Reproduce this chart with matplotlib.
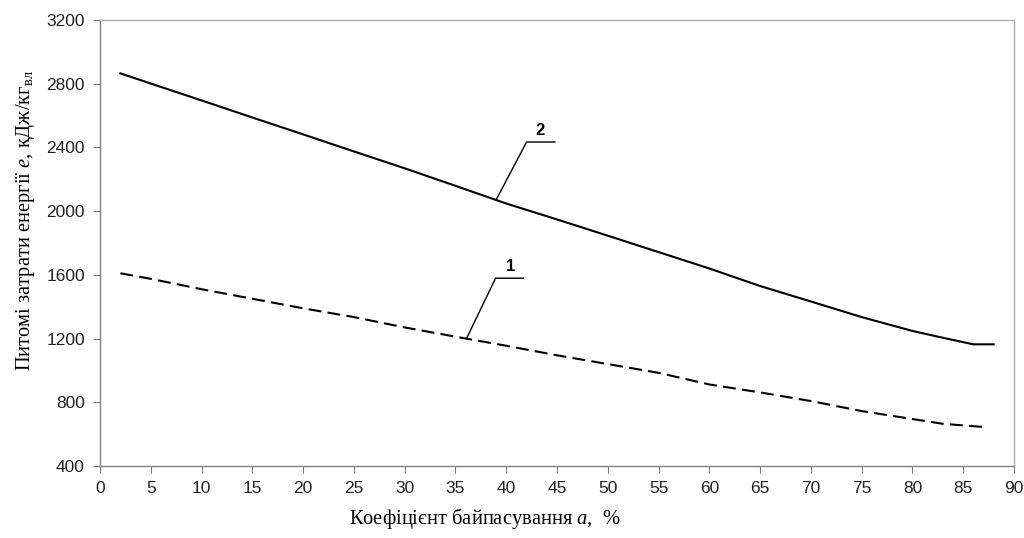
import numpy as np
import matplotlib.pyplot as plt

plt.rcParams['mathtext.fontset'] = 'custom'
plt.rcParams['mathtext.rm'] = 'Liberation Serif'
plt.rcParams['mathtext.it'] = 'Liberation Serif:italic'

# curve 2 (solid)
x2 = [2, 5, 10, 15, 20, 25, 30, 35, 40, 45, 50, 55, 60, 65, 70, 75, 80, 83, 86, 88]
e2 = [2865, 2801, 2695, 2588, 2482, 2375, 2269, 2159, 2048, 1948, 1846, 1743, 1640, 1530, 1433, 1335, 1248, 1205, 1164, 1164]

# curve 1 (dashed)
x1 = [2, 5, 10, 15, 20, 25, 30, 35, 40, 45, 50, 55, 60, 65, 70, 75, 80, 83, 87]
e1 = [1610, 1575, 1510, 1450, 1390, 1335, 1270, 1212, 1155, 1095, 1040, 985, 912, 862, 808, 745, 695, 665, 645]

xticks = list(range(0, 91, 5))
yticks = list(range(400, 3201, 400))

fig = plt.figure(figsize=(10.24, 5.38), dpi=100)
ax = fig.add_axes([0.0977, 0.1338, 0.8925, 0.829])

ax.plot(x2, e2, color='black', lw=1.5)
ax.plot(x1, e1, color='black', lw=1.5, dashes=(6.2, 3.0))

# leader lines with labels
ax.plot([39.0, 42.0, 44.8], [2070, 2434, 2434], color='black', lw=1.0)
ax.text(43.3, 2462, '2', fontsize=12, fontweight='bold', family='Liberation Sans', ha='center', va='bottom')
ax.plot([36.1, 38.95, 41.7], [1202, 1579, 1579], color='black', lw=1.0)
ax.text(40.4, 1607, '1', fontsize=12, fontweight='bold', family='Liberation Sans', ha='center', va='bottom')

ax.set_xlim(0, 90)
ax.set_ylim(400, 3200)
ax.set_xticks(xticks)
ax.set_yticks(yticks)
ax.tick_params(direction='out', length=5, color='#808080', labelsize=12.5, pad=6)
for lab in ax.get_xticklabels() + ax.get_yticklabels():
    lab.set_family('Liberation Sans')
    lab.set_color('#222222')

ax.spines['left'].set_color('#808080')
ax.spines['bottom'].set_color('#808080')
ax.spines['top'].set_color('#b0b0b0')
ax.spines['right'].set_color('#b0b0b0')
for s in ax.spines.values():
    s.set_linewidth(1.0)

ax.set_ylabel('Питомі затрати енергії $e$, кДж/кг$_{\\mathrm{вл}}$', family='Liberation Serif',
              fontsize=14.8, va='center')
ax.set_xlabel('Коефіцієнт байпасування $a$,  %', family='Liberation Serif', fontsize=14.8, va='center')
ax.yaxis.set_label_coords(-0.082, 0.55)
ax.xaxis.set_label_coords(0.421, -0.117)

fig.savefig('out.png', dpi=100)
